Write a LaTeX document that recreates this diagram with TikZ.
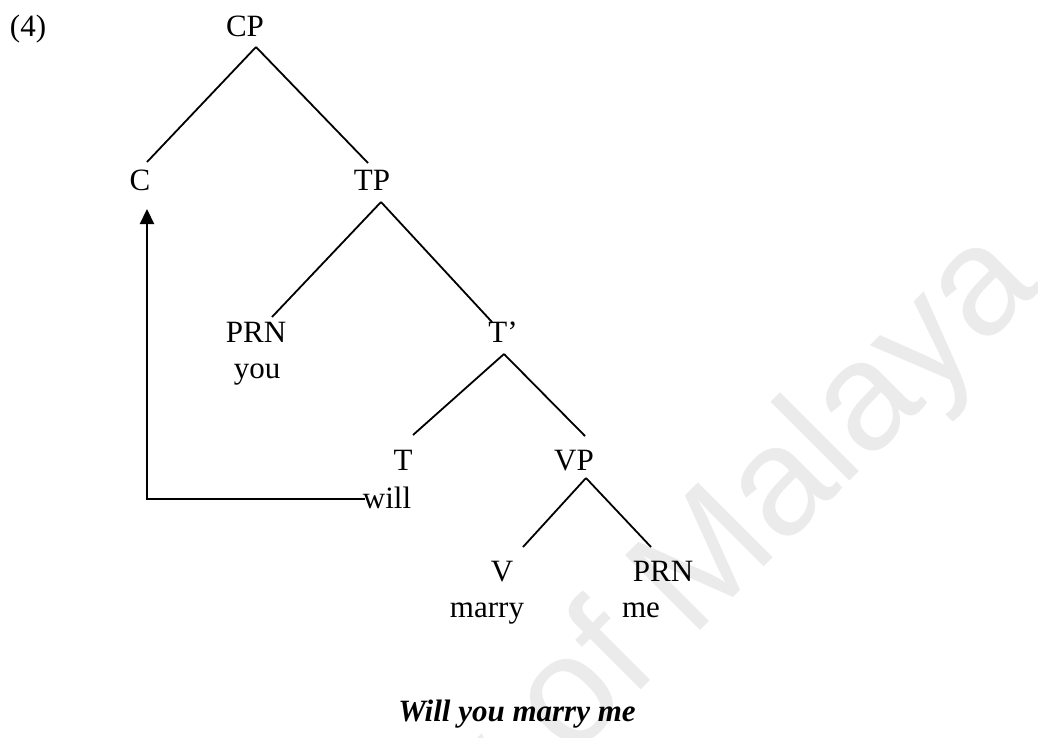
\documentclass[tikz,border=0pt]{standalone}
\usepackage{fontspec}
\setmainfont{Liberation Serif}
\newfontfamily\markfont{Liberation Sans}
\usetikzlibrary{calc,arrows.meta}
\begin{document}
\begin{tikzpicture}[x=1pt,y=-1pt,
  lbl/.style={anchor=base,inner sep=0pt,font=\fontsize{31}{37}\selectfont},
  branch/.style={line width=1.8pt},
  move/.style={line width=2.2pt,-{Triangle[length=15pt,width=14pt]}}]
\useasboundingbox (0,0) rectangle (1038,737);
% faint watermark behind the tree
\begin{scope}
  \clip (0,0) rectangle (1038,737);
  \node[anchor=base east,rotate=45,inner sep=0pt,text=black!8,
        font=\markfont\fontsize{154}{160}\selectfont] (wm) at (1043,288) {University of Malaya};
\end{scope}

% labels
\node[lbl] (num) at (28,36) {(4)};
\node[lbl] (cp) at (245,36) {CP};
\node[lbl] (c) at (140,190) {C};
\node[lbl] (tp) at (372,190) {TP};
\node[lbl] (prn1) at (256,342) {PRN};
\node[lbl] (you) at (257,378) {you};
\node[lbl] (tbar) at (503,342) {T’};
\node[lbl] (t) at (403,470) {T};
\node[lbl] (will) at (387,508) {will};
\node[lbl] (vp) at (574,470) {VP};
\node[lbl] (v) at (502,581) {V};
\node[lbl] (marry) at (487,617) {marry};
\node[lbl] (prn2) at (663,581) {PRN};
\node[lbl] (me) at (641,617) {me};
\node[lbl,font=\fontsize{31}{37}\selectfont\bfseries\itshape] (caption) at (517,721) {Will you marry me};

% branches
\draw[branch] ($(cp.base)+(11,11)$) -- ($(c.base)+(7,-28)$);
\draw[branch] ($(cp.base)+(11,11)$) -- ($(tp.base)+(-4,-27)$);
\draw[branch] ($(tp.base)+(9,12)$) -- ($(prn1.base)+(16,-25)$);
\draw[branch] ($(tp.base)+(9,12)$) -- ($(tbar.base)+(-11,-20)$);
\draw[branch] ($(tbar.base)+(1,12)$) -- ($(t.base)+(10,-35)$);
\draw[branch] ($(tbar.base)+(1,12)$) -- ($(vp.base)+(11,-34)$);
\draw[branch] ($(vp.base)+(12,8)$) -- ($(v.base)+(21,-34)$);
\draw[branch] ($(vp.base)+(12,8)$) -- ($(prn2.base)+(-12,-34)$);

% head movement of T to C
\draw[move] ($(will.base)+(-22,-9)$) -| ($(c.base)+(7,19)$);
\end{tikzpicture}
\end{document}
